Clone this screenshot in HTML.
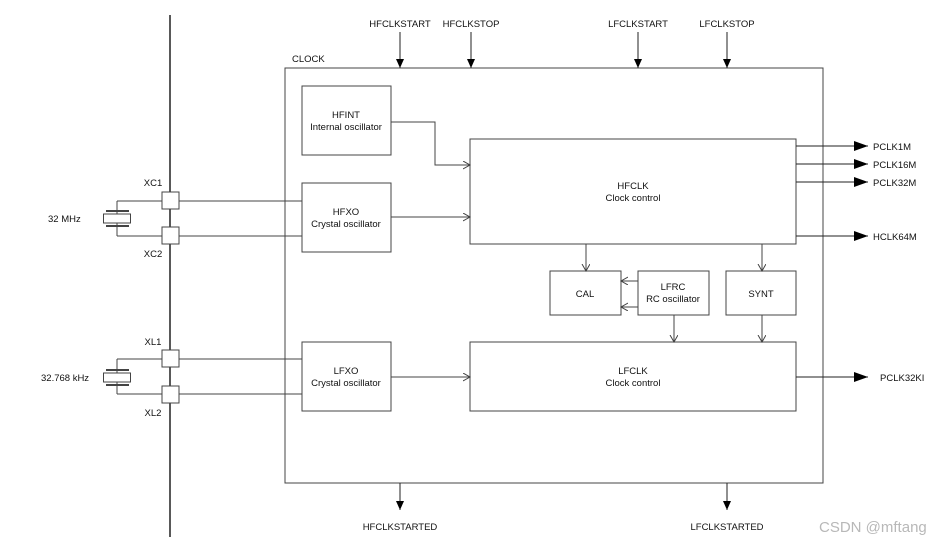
<!DOCTYPE html>
<html><head><meta charset="utf-8"><style>
html,body{margin:0;padding:0;background:#fff;}
svg{display:block;}
text{font-family:"Liberation Sans",Arial,sans-serif;font-size:9.5px;fill:#111;}
</style></head><body>
<svg width="951" height="543" viewBox="0 0 951 543" xmlns="http://www.w3.org/2000/svg">
<defs>
<marker id="a" markerWidth="10" markerHeight="10" refX="9" refY="4" orient="auto" markerUnits="userSpaceOnUse"><path d="M0,0 L9,4 L0,8 z" fill="#000"/></marker>
<marker id="b" markerWidth="16" markerHeight="12" refX="14" refY="5" orient="auto" markerUnits="userSpaceOnUse"><path d="M0,0 L14,5 L0,10 z" fill="#000"/></marker>
<marker id="o" markerWidth="10" markerHeight="10" refX="7" refY="4" orient="auto" markerUnits="userSpaceOnUse"><path d="M0,0 L7,4 L0,8" fill="none" stroke="#444" stroke-width="1"/></marker>
</defs>
<g stroke="#444" stroke-width="1" fill="none">
<line x1="170" y1="15" x2="170" y2="537" stroke="#222" stroke-width="1.5"/>
<rect x="285" y="68" width="538" height="415"/>
<rect x="302" y="86" width="89" height="69" fill="#fff"/>
<rect x="302" y="183" width="89" height="69" fill="#fff"/>
<rect x="302" y="342" width="89" height="69" fill="#fff"/>
<rect x="470" y="139" width="326" height="105"/>
<rect x="550" y="271" width="71" height="44"/>
<rect x="638" y="271" width="71" height="44"/>
<rect x="726" y="271" width="70" height="44"/>
<rect x="470" y="342" width="326" height="69"/>
<line x1="117" y1="201" x2="302" y2="201"/>
<line x1="117" y1="236" x2="302" y2="236"/>
<line x1="117" y1="201" x2="117" y2="236"/>
<line x1="117" y1="359" x2="302" y2="359"/>
<line x1="117" y1="394" x2="302" y2="394"/>
<line x1="117" y1="359" x2="117" y2="394"/>
<rect x="162" y="192" width="17" height="17" fill="#fff"/>
<rect x="162" y="227" width="17" height="17" fill="#fff"/>
<rect x="162" y="350" width="17" height="17" fill="#fff"/>
<rect x="162" y="386" width="17" height="17" fill="#fff"/>
<rect x="103.5" y="214" width="27" height="9" fill="#fff"/>
<line x1="106" y1="211" x2="129" y2="211" stroke-width="2"/>
<line x1="106" y1="226" x2="129" y2="226" stroke-width="2"/>
<rect x="103.5" y="373" width="27" height="9" fill="#fff"/>
<line x1="106" y1="370" x2="129" y2="370" stroke-width="2"/>
<line x1="106" y1="385" x2="129" y2="385" stroke-width="2"/>
<polyline points="391,122 435,122 435,165 470,165" marker-end="url(#o)"/>
<line x1="391" y1="217" x2="470" y2="217" marker-end="url(#o)"/>
<line x1="391" y1="377" x2="470" y2="377" marker-end="url(#o)"/>
<line x1="586" y1="244" x2="586" y2="271" marker-end="url(#o)"/>
<line x1="762" y1="244" x2="762" y2="271" marker-end="url(#o)"/>
<line x1="638" y1="281" x2="621" y2="281" marker-end="url(#o)"/>
<line x1="638" y1="307" x2="621" y2="307" marker-end="url(#o)"/>
<line x1="674" y1="315" x2="674" y2="342" marker-end="url(#o)"/>
<line x1="762" y1="315" x2="762" y2="342" marker-end="url(#o)"/>
</g>
<g stroke="#222" stroke-width="1">
<line x1="400" y1="32" x2="400" y2="68" marker-end="url(#a)"/>
<line x1="471" y1="32" x2="471" y2="68" marker-end="url(#a)"/>
<line x1="638" y1="32" x2="638" y2="68" marker-end="url(#a)"/>
<line x1="727" y1="32" x2="727" y2="68" marker-end="url(#a)"/>
<line x1="400" y1="483" x2="400" y2="510" marker-end="url(#a)"/>
<line x1="727" y1="483" x2="727" y2="510" marker-end="url(#a)"/>
<line x1="796" y1="146" x2="868" y2="146" marker-end="url(#b)"/>
<line x1="796" y1="164" x2="868" y2="164" marker-end="url(#b)"/>
<line x1="796" y1="182" x2="868" y2="182" marker-end="url(#b)"/>
<line x1="796" y1="236" x2="868" y2="236" marker-end="url(#b)"/>
<line x1="796" y1="377" x2="868" y2="377" marker-end="url(#b)"/>
</g>
<g text-anchor="middle">
<text x="400" y="27">HFCLKSTART</text>
<text x="471" y="27">HFCLKSTOP</text>
<text x="638" y="27">LFCLKSTART</text>
<text x="727" y="27">LFCLKSTOP</text>
<text x="400" y="530">HFCLKSTARTED</text>
<text x="727" y="530">LFCLKSTARTED</text>
<text x="346" y="118">HFINT</text><text x="346" y="130">Internal oscillator</text>
<text x="346" y="215">HFXO</text><text x="346" y="227">Crystal oscillator</text>
<text x="346" y="374">LFXO</text><text x="346" y="386">Crystal oscillator</text>
<text x="633" y="189">HFCLK</text><text x="633" y="201">Clock control</text>
<text x="633" y="374">LFCLK</text><text x="633" y="386">Clock control</text>
<text x="585" y="297">CAL</text>
<text x="673" y="290">LFRC</text><text x="673" y="302">RC oscillator</text>
<text x="761" y="297">SYNT</text>
<text x="153" y="186">XC1</text>
<text x="153" y="257">XC2</text>
<text x="153" y="345">XL1</text>
<text x="153" y="416">XL2</text>
</g>
<text x="292" y="62">CLOCK</text>
<text x="48" y="222">32 MHz</text>
<text x="41" y="381">32.768 kHz</text>
<text x="873" y="150">PCLK1M</text>
<text x="873" y="168">PCLK16M</text>
<text x="873" y="186">PCLK32M</text>
<text x="873" y="240">HCLK64M</text>
<text x="880" y="381">PCLK32KI</text>
<text x="819" y="532" style="font-size:15px;fill:#b8b8b8">CSDN @mftang</text>
</svg>
</body></html>
